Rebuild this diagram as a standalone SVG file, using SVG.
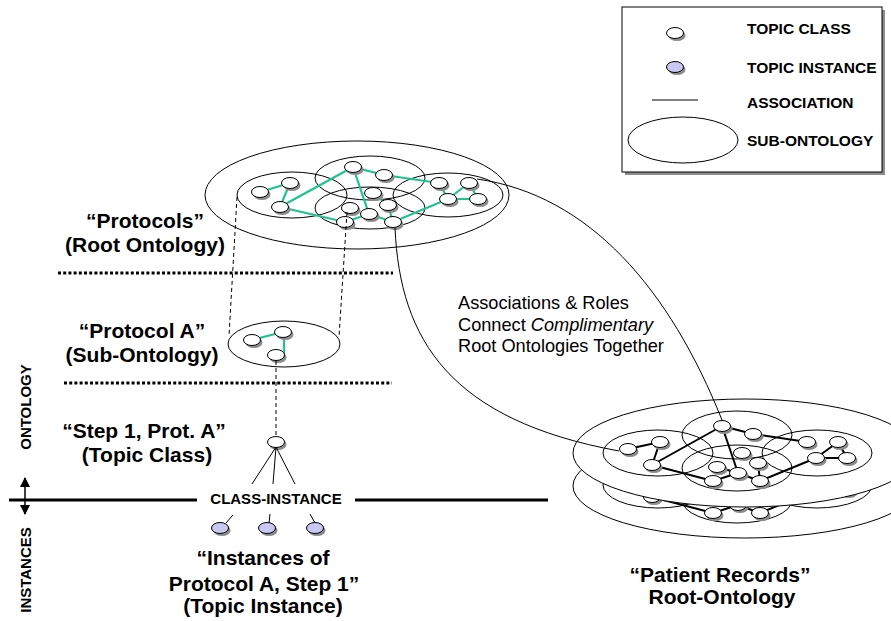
<svg xmlns="http://www.w3.org/2000/svg" xmlns:xlink="http://www.w3.org/1999/xlink" width="891" height="621" viewBox="0 0 891 621">
  <style>
    .lbl { font-family: "Liberation Sans", Arial, sans-serif; font-weight: bold; fill: #000; }
    .big { font-size: 21px; text-anchor: middle; }
    .cap { font-size: 15px; }
    .leg { font-size: 15.5px; }
    .note { font-family: "Liberation Sans", Arial, sans-serif; font-size: 18.2px; fill: #000; }
    .ring { fill: none; stroke: #000; stroke-width: 1; }
    .disc { fill: #fff; stroke: #000; stroke-width: 1; }
    .assocG { stroke: #1ec38f; stroke-width: 2.2; fill: none; stroke-linecap: round; }
    .assocK { stroke: #000; stroke-width: 2; fill: none; stroke-linecap: round; }
    .thin { stroke: #000; stroke-width: 1; fill: none; }
    .dash { stroke: #000; stroke-width: 1; fill: none; stroke-dasharray: 4 3; }
    .dots { stroke: #000; stroke-width: 3; fill: none; stroke-dasharray: 3 2.2; }
    .bar { stroke: #000; stroke-width: 3; }
  </style>
  <defs>
    <!-- topic class: white oval with a drop shadow -->
    <g id="tc">
      <ellipse cx="2" cy="2.5" rx="8.5" ry="5.5" fill="#8c8c8c"/>
      <ellipse rx="8.5" ry="5.5" fill="#fff" stroke="#000" stroke-width="1"/>
    </g>
    <!-- topic instance: lavender oval with a drop shadow -->
    <g id="ti">
      <ellipse cx="2" cy="2.5" rx="8.5" ry="5.5" fill="#8c8c8c"/>
      <ellipse rx="8.5" ry="5.5" fill="#c8c8f2" stroke="#000" stroke-width="1"/>
    </g>
    <marker id="tip" viewBox="0 0 10 10" refX="9" refY="5" markerWidth="7" markerHeight="7" orient="auto-start-reverse">
      <path d="M0,0 L10,5 L0,10 z" fill="#000"/>
    </marker>
    <!-- sub-ontologies, associations and topics of one patient records layer -->
    <g id="prLayer">
      <ellipse class="ring" cx="658" cy="453" rx="55" ry="23"/>
      <ellipse class="ring" cx="737" cy="435" rx="55" ry="24"/>
      <ellipse class="ring" cx="737" cy="468" rx="55" ry="23"/>
      <ellipse class="ring" cx="817" cy="453" rx="55" ry="23"/>
      <g class="assocK">
        <line x1="628" y1="449" x2="660" y2="442"/>
        <line x1="660" y1="442" x2="652" y2="465"/>
        <line x1="652" y1="465" x2="722" y2="426"/>
        <line x1="652" y1="465" x2="713" y2="481"/>
        <line x1="722" y1="426" x2="753" y2="434"/>
        <line x1="722" y1="426" x2="738" y2="473"/>
        <line x1="753" y1="434" x2="807" y2="442"/>
        <line x1="717" y1="467" x2="738" y2="473"/>
        <line x1="713" y1="481" x2="738" y2="473"/>
        <line x1="738" y1="473" x2="760" y2="481"/>
        <line x1="758" y1="463" x2="760" y2="481"/>
        <line x1="760" y1="481" x2="816" y2="458"/>
        <line x1="816" y1="458" x2="838" y2="442"/>
        <line x1="816" y1="458" x2="847" y2="458"/>
        <line x1="838" y1="442" x2="847" y2="458"/>
      </g>
      <use href="#tc" x="628" y="449"/>
      <use href="#tc" x="660" y="442"/>
      <use href="#tc" x="652" y="465"/>
      <use href="#tc" x="722" y="426"/>
      <use href="#tc" x="753" y="434"/>
      <use href="#tc" x="742" y="453"/>
      <use href="#tc" x="758" y="463"/>
      <use href="#tc" x="717" y="467"/>
      <use href="#tc" x="738" y="473"/>
      <use href="#tc" x="713" y="481"/>
      <use href="#tc" x="760" y="481"/>
      <use href="#tc" x="807" y="442"/>
      <use href="#tc" x="838" y="442"/>
      <use href="#tc" x="816" y="458"/>
      <use href="#tc" x="847" y="458"/>
    </g>
  </defs>

  <rect width="891" height="621" fill="#fff"/>

  <!-- legend -->
  <g id="legend">
    <rect x="625" y="10" width="260" height="165" fill="#8c8c8c"/>
    <rect x="622" y="7" width="260" height="165" fill="#fff" stroke="#000" stroke-width="1"/>
    <use href="#tc" x="675" y="33"/>
    <use href="#ti" x="675" y="67"/>
    <line class="thin" x1="652" y1="100" x2="698" y2="100"/>
    <ellipse class="ring" cx="683" cy="140" rx="55" ry="23"/>
    <text class="lbl leg" x="747" y="34">TOPIC CLASS</text>
    <text class="lbl leg" x="747" y="73">TOPIC INSTANCE</text>
    <text class="lbl leg" x="747" y="108">ASSOCIATION</text>
    <text class="lbl leg" x="747" y="146">SUB-ONTOLOGY</text>
  </g>

  <!-- "Protocols" root ontology -->
  <g id="protocols">
    <ellipse class="disc" cx="357" cy="195" rx="152" ry="54"/>
    <ellipse class="ring" cx="292" cy="195" rx="55" ry="23"/>
    <ellipse class="ring" cx="370" cy="178" rx="55" ry="22"/>
    <ellipse class="ring" cx="370" cy="208" rx="55" ry="21"/>
    <ellipse class="ring" cx="448" cy="195" rx="55" ry="22"/>
    <g class="assocG">
      <line x1="260" y1="192" x2="290" y2="183"/>
      <line x1="290" y1="183" x2="280" y2="207"/>
      <line x1="280" y1="207" x2="353" y2="167"/>
      <line x1="280" y1="207" x2="345" y2="222"/>
      <line x1="353" y1="167" x2="384" y2="175"/>
      <line x1="353" y1="167" x2="369" y2="214"/>
      <line x1="384" y1="175" x2="439" y2="183"/>
      <line x1="373" y1="193" x2="388" y2="205"/>
      <line x1="345" y1="222" x2="369" y2="214"/>
      <line x1="369" y1="214" x2="393" y2="222"/>
      <line x1="388" y1="205" x2="393" y2="222"/>
      <line x1="393" y1="222" x2="448" y2="199"/>
      <line x1="448" y1="199" x2="439" y2="183"/>
      <line x1="448" y1="199" x2="469" y2="183"/>
      <line x1="448" y1="199" x2="478" y2="199"/>
      <line x1="469" y1="183" x2="478" y2="199"/>
    </g>
    <use href="#tc" x="260" y="192"/>
    <use href="#tc" x="290" y="183"/>
    <use href="#tc" x="280" y="207"/>
    <use href="#tc" x="353" y="167"/>
    <use href="#tc" x="384" y="175"/>
    <use href="#tc" x="373" y="193"/>
    <use href="#tc" x="350" y="208"/>
    <use href="#tc" x="369" y="214"/>
    <use href="#tc" x="388" y="205"/>
    <use href="#tc" x="345" y="222"/>
    <use href="#tc" x="393" y="222"/>
    <use href="#tc" x="439" y="183"/>
    <use href="#tc" x="469" y="183"/>
    <use href="#tc" x="448" y="199"/>
    <use href="#tc" x="478" y="199"/>
  </g>

  <!-- "Protocol A" sub-ontology -->
  <g id="protocolA">
    <ellipse class="disc" cx="284" cy="344" rx="56" ry="23"/>
    <g class="assocG">
      <line x1="252" y1="340" x2="283" y2="332"/>
      <line x1="284" y1="338" x2="284" y2="356"/>
    </g>
    <use href="#tc" x="252" y="340"/>
    <use href="#tc" x="283" y="332"/>
    <use href="#tc" x="276" y="355"/>
  </g>

  <!-- "Step 1, Prot. A" topic class -->
  <g id="step1">
    <use href="#tc" x="276" y="442"/>
  </g>

  <!-- instances of step 1 -->
  <g id="instances">
    <use href="#ti" x="220" y="528"/>
    <use href="#ti" x="267" y="528"/>
    <use href="#ti" x="315" y="528"/>
  </g>

  <!-- "Patient Records" root ontology, two stacked layers -->
  <g id="patientRecords">
    <ellipse class="disc" cx="745" cy="486" rx="172" ry="52"/>
    <use href="#prLayer" y="32"/>
    <ellipse class="disc" cx="745" cy="453" rx="172" ry="54"/>
    <use href="#prLayer"/>
  </g>

  <!-- connectors -->
  <g id="connectors">
    <line class="dash" x1="237" y1="197" x2="229" y2="336"/>
    <line class="dash" x1="347" y1="212" x2="339" y2="337"/>
    <line class="dash" x1="276" y1="361" x2="276" y2="436"/>
    <line class="thin" x1="276" y1="447" x2="252" y2="484"/>
    <line class="thin" x1="276" y1="447" x2="273" y2="484"/>
    <line class="thin" x1="276" y1="447" x2="295" y2="484"/>
    <line class="thin" x1="233" y1="515" x2="226" y2="523"/>
    <line class="thin" x1="270" y1="514" x2="269" y2="523"/>
    <line class="thin" x1="310" y1="514" x2="315" y2="523"/>
    <path class="thin" d="M395,228 C400,340 450,420 619,451"/>
    <path class="thin" d="M477,179 C590,195 670,290 722,420"/>
  </g>

  <!-- layer dividers -->
  <g id="dividers">
    <line class="dots" x1="58" y1="273" x2="393" y2="273"/>
    <line class="dots" x1="64" y1="383" x2="392" y2="383"/>
    <line class="bar" x1="9" y1="500" x2="197" y2="500"/>
    <line class="bar" x1="355" y1="500" x2="548" y2="500"/>
    <line stroke="#000" stroke-width="1.5" x1="25" y1="478" x2="25" y2="514" marker-start="url(#tip)" marker-end="url(#tip)"/>
  </g>

  <!-- labels -->
  <g id="labels">
    <text class="lbl big" x="145" y="228">“Protocols”</text>
    <text class="lbl big" x="145" y="252">(Root Ontology)</text>
    <text class="lbl big" x="142" y="338">“Protocol A”</text>
    <text class="lbl big" x="142" y="362">(Sub-Ontology)</text>
    <text class="lbl big" x="144" y="438">“Step 1, Prot. A”</text>
    <text class="lbl big" x="147" y="462">(Topic Class)</text>
    <text class="lbl cap" x="276" y="504" text-anchor="middle">CLASS-INSTANCE</text>
    <text class="lbl big" x="263" y="565">“Instances of</text>
    <text class="lbl big" x="264" y="591">Protocol A, Step 1”</text>
    <text class="lbl big" x="263" y="613">(Topic Instance)</text>
    <text class="lbl big" x="720" y="582">“Patient Records”</text>
    <text class="lbl big" x="722" y="604">Root-Ontology</text>
    <text class="lbl cap" transform="translate(31,407) rotate(-90)" text-anchor="middle">ONTOLOGY</text>
    <text class="lbl cap" transform="translate(31,570) rotate(-90)" text-anchor="middle">INSTANCES</text>
    <text class="note" x="458" y="309">Associations &amp; Roles</text>
    <text class="note" x="458" y="331">Connect <tspan font-style="italic">Complimentary</tspan></text>
    <text class="note" x="458" y="352">Root Ontologies Together</text>
  </g>
</svg>
